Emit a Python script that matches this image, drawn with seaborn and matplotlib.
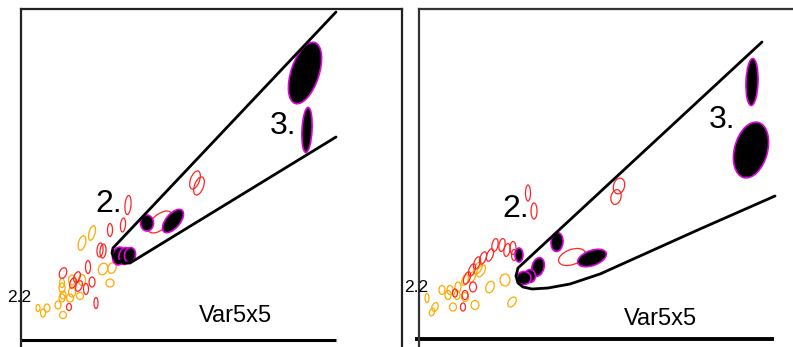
import matplotlib
matplotlib.use("Agg")
import matplotlib.pyplot as plt
from matplotlib.patches import Ellipse
import seaborn as sns
import pandas as pd

sns.set_style("white")
plt.rcParams['font.family'] = ['Liberation Sans', 'DejaVu Sans']

# ---------------- data (panel coordinates) ----------------
# Left panel: filled (black, magenta edge) ellipses
L_fill_x = [305, 307, 147, 173, 119, 125, 130]
L_fill_y = [73, 130, 223, 221, 256, 256, 255]
L_fill_w = [28, 10, 13, 14, 13, 12, 11]
L_fill_h = [64, 45, 16, 28, 18, 17, 15]
L_fill_a = [18, 3, 0, 40, 10, 10, 10]

# Left panel: red outline ellipses
L_red_x = [128, 123, 160, 195, 199, 110, 100, 103, 88, 63, 77, 73, 79, 92, 86, 69, 96]
L_red_y = [205, 225, 222, 180, 186, 230, 250, 251, 267, 273, 277, 283, 286, 282, 289, 307, 303]
L_red_w = [6, 5, 15, 9, 9, 5, 6, 6, 5, 7, 6, 6, 6, 6, 5, 5, 4]
L_red_h = [19, 14, 29, 19, 19, 13, 14, 14, 13, 11, 11, 11, 11, 10, 11, 7, 11]
L_red_a = [5, 5, 50, 20, 20, 0, 5, 5, 0, 20, 20, 20, 20, 0, 0, 0, 0]

# Left panel: orange outline ellipses
L_org_x = [92, 82, 103, 112, 72, 82, 110, 62, 72, 80, 70, 62, 58, 63, 47, 43, 38, 62, 63]
L_org_y = [233, 243, 269, 268, 280, 280, 283, 288, 292, 296, 298, 298, 305, 315, 308, 313, 308, 283, 295]
L_org_w = [6, 7, 9, 8, 7, 7, 8, 6, 7, 7, 7, 6, 6, 7, 6, 5, 4, 5, 6]
L_org_h = [15, 15, 12, 11, 10, 11, 8, 10, 10, 7, 8, 8, 8, 7, 8, 8, 7, 9, 8]
L_org_a = [15, 15, 20, 20, 0, 0, 0, 0, 0, 0, 0, 0, 0, 0, 0, 0, 0, 0, 0]

# Left panel envelope curve
L_curve_x = [336, 113, 112, 114, 118, 124, 130, 336]
L_curve_y = [12, 248, 253, 258, 261, 263, 263, 137]

# Right panel: filled ellipses
R_fill_x = [752, 751, 557, 592, 538, 530, 524, 519]
R_fill_y = [82, 150, 242, 258, 267, 276, 278, 255]
R_fill_w = [12, 33, 12, 30, 12, 11, 14, 8]
R_fill_h = [47, 57, 19, 15, 19, 13, 13, 14]
R_fill_a = [2, 15, 5, -20, 15, 0, 0, 0]

# Right panel: red outline ellipses
R_red_x = [572, 528, 534, 619, 616, 495, 502, 513, 507, 490, 483, 477, 472, 467, 473, 465, 455, 463, 514]
R_red_y = [257, 193, 211, 186, 197, 245, 245, 248, 250, 255, 258, 263, 270, 278, 287, 295, 293, 307, 255]
R_red_w = [28, 5, 6, 11, 10, 6, 6, 6, 6, 6, 6, 6, 6, 6, 7, 6, 5, 5, 5]
R_red_h = [15, 16, 16, 16, 15, 13, 13, 13, 13, 13, 13, 13, 13, 13, 10, 9, 8, 8, 11]
R_red_a = [-20, 0, 0, 15, 15, 10, 10, 0, 10, 20, 20, 20, 20, 20, 0, 0, 0, 0, 0]

# Right panel: orange outline ellipses
R_org_x = [478, 481, 465, 472, 458, 450, 448, 457, 465, 490, 505, 453, 475, 512, 435, 432, 427, 442]
R_org_y = [268, 271, 280, 277, 287, 290, 295, 295, 297, 287, 280, 307, 305, 302, 307, 312, 298, 290]
R_org_w = [7, 7, 6, 6, 6, 6, 6, 6, 7, 8, 10, 7, 8, 7, 6, 5, 4, 6]
R_org_h = [13, 13, 11, 11, 10, 9, 9, 9, 9, 12, 12, 8, 9, 11, 9, 8, 9, 9]
R_org_a = [30, 30, 20, 20, 0, 0, 0, 0, 0, 20, 0, 0, 0, 35, 20, 20, 0, 0]

# Right panel envelope curve
R_curve_x = [762, 518, 516, 518, 523, 532, 548, 570, 600, 640, 700, 775]
R_curve_y = [42, 268, 276, 283, 287, 289, 288, 284, 274, 256, 229, 196]

# Text labels
L_labels = [("3.", 283, 126, 23), ("2.", 109, 204, 23), ("Var5x5", 235, 316, 17), ("2.2", 19, 298, 12.5)]
R_labels = [("3.", 722, 120, 23), ("2.", 516, 209, 23), ("Var5x5", 660, 319, 17), ("2.2", 416, 288, 12.5)]

# ---------------- drawing ----------------
W, H = 793, 347
fig = plt.figure(figsize=(W / 100, H / 100), dpi=100)


def make_axes(x0, x1, top):
    ax = fig.add_axes([x0 / W, 0, (x1 - x0) / W, (H - top) / H])
    ax.set_xlim(x0, x1)
    ax.set_ylim(H, top)
    ax.set_xticks([])
    ax.set_yticks([])
    ax.set_facecolor("white")
    return ax


def ellipses(ax, xs, ys, ws, hs, angs, face, edge, lw):
    for x, y, w, h, a in zip(xs, ys, ws, hs, angs):
        ax.add_patch(Ellipse((x, y), w, h, angle=a, facecolor=face,
                             edgecolor=edge, linewidth=lw, zorder=3))


def panel(ax, fill, red, org, cx, cy, labels):
    ellipses(ax, *org, face="none", edge="#FFAA00", lw=0.9)
    ellipses(ax, *red, face="none", edge="#FF2525", lw=0.9)
    ellipses(ax, *fill, face="black", edge="#E000E0", lw=1.2)
    df = pd.DataFrame({"x": cx, "y": cy})
    sns.lineplot(data=df, x="x", y="y", sort=False, estimator=None,
                 color="black", linewidth=2, ax=ax, zorder=4)
    ax.set_xlabel("")
    ax.set_ylabel("")
    for t, x, y, s in labels:
        ax.text(x, y, t, fontsize=s, ha="center", va="center", color="black", zorder=5)


ax1 = make_axes(21, 402, 9)
for side in ["top", "left", "right"]:
    ax1.spines[side].set_visible(True)
    ax1.spines[side].set_color("#222222")
    ax1.spines[side].set_linewidth(1.6)
ax1.spines["bottom"].set_visible(False)
panel(ax1,
      (L_fill_x, L_fill_y, L_fill_w, L_fill_h, L_fill_a),
      (L_red_x, L_red_y, L_red_w, L_red_h, L_red_a),
      (L_org_x, L_org_y, L_org_w, L_org_h, L_org_a),
      L_curve_x, L_curve_y, L_labels)
ax1.plot([21, 336], [340, 340], color="black", linewidth=2.2, solid_capstyle="butt", clip_on=False)

ax2 = make_axes(419, 800, 9)
for side in ["top", "left"]:
    ax2.spines[side].set_visible(True)
    ax2.spines[side].set_color("#333333")
    ax2.spines[side].set_linewidth(1.6)
ax2.spines["bottom"].set_visible(False)
ax2.spines["right"].set_visible(False)
panel(ax2,
      (R_fill_x, R_fill_y, R_fill_w, R_fill_h, R_fill_a),
      (R_red_x, R_red_y, R_red_w, R_red_h, R_red_a),
      (R_org_x, R_org_y, R_org_w, R_org_h, R_org_a),
      R_curve_x, R_curve_y, R_labels)
ax2.plot([415, 774], [339, 339], color="black", linewidth=2.8, solid_capstyle="butt", clip_on=False)

fig.savefig("out.png", dpi=100)
